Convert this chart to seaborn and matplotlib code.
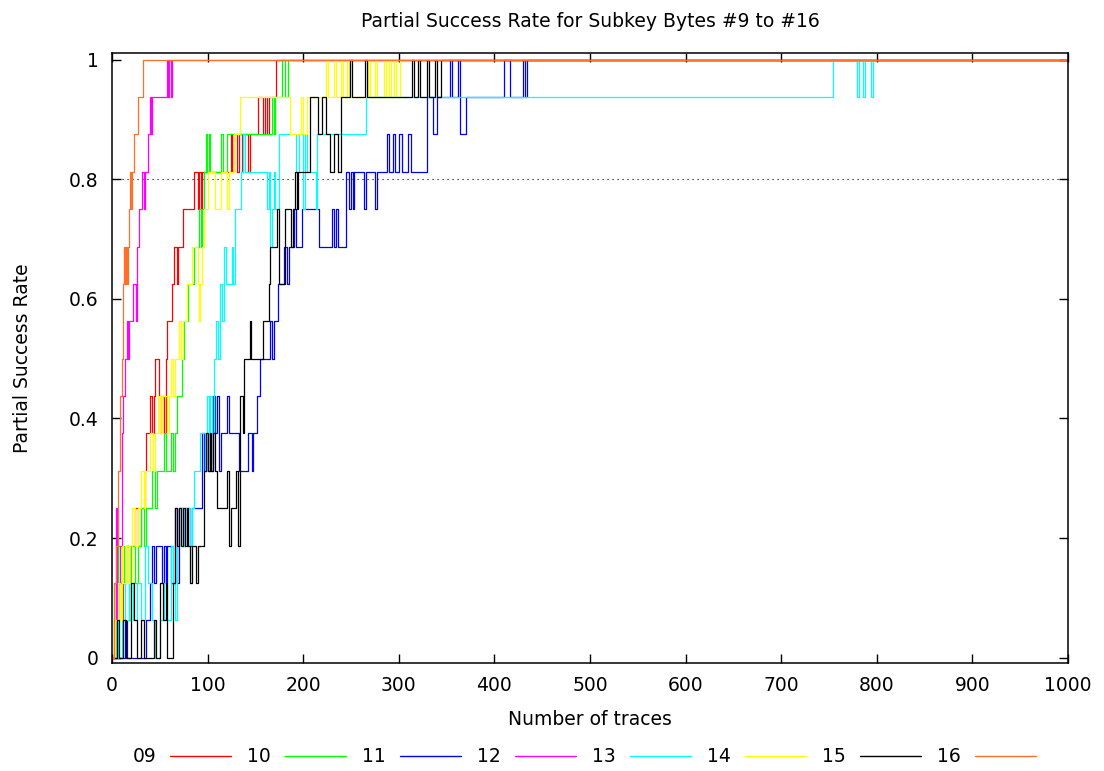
import numpy as np
import pandas as pd
import matplotlib
matplotlib.use("Agg")
import matplotlib.pyplot as plt
import seaborn as sns
from matplotlib.lines import Line2D

# Each attack is repeated on 16 independent runs; the success rate is hits / 16.
RUNS = 16

# (number of traces, successful runs) for each subkey byte; the count holds
# until the next listed trace count.
byte09 = [(0,0),(3,1),(6,2),(10,1),(12,2),(15,3),(18,2),(20,3),(24,4),(27,3),(30,4),(34,5),(36,6),(38,6),
          (40,7),(42,6),(44,7),(45,8),(48,8),(49,7),(50,6),(52,7),(54,6),(56,8),(58,9),(62,9),(63,10),(65,11),
          (67,11),(68,10),(69,11),(72,11),(74,12),(85,12),(86,13),(89,13),(90,12),(91,13),(93,12),(94,13),
          (123,13),(124,14),(126,13),(128,14),(131,13),(133,14),(136,13),(137,14),(140,14),(142,13),(144,14),
          (152,14),(153,15),(157,15),(158,14),(160,15),(162,14),(164,15),(170,15),(172,16),(1000,16)]

byte10 = [(0,0),(2,2),(4,1),(6,3),(8,2),(10,3),(13,2),(15,3),(18,1),(20,3),(24,2),(27,3),(30,4),(33,3),
          (36,4),(40,4),(42,5),(45,4),(47,5),(52,5),(54,6),(56,5),(60,5),(62,6),(64,5),(66,6),(68,7),(71,7),
          (73,8),(75,9),(78,9),(80,10),(84,10),(86,11),(90,11),(91,12),(93,11),(94,12),(96,13),(98,14),(99,13),
          (101,14),(103,13),(112,13),(114,14),(116,13),(120,14),(166,14),(167,15),(169,14),(171,15),(175,15),
          (178,16),(181,15),(184,16),(1000,16)]

byte11 = [(0,0),(10,0),(14,1),(16,0),(30,0),(36,1),(40,2),(42,3),(44,2),(46,3),(50,3),(52,2),(54,3),(56,2),
          (58,3),(62,2),(66,4),(68,2),(70,4),(74,3),(76,4),(80,4),(82,3),(84,4),(90,4),(94,6),(96,5),(98,6),
          (100,5),(102,6),(104,5),(106,7),(108,6),(110,7),(112,5),(114,6),(118,6),(120,7),(122,6),(132,6),
          (133,5),(140,5),(142,6),(145,6),(146,5),(148,6),(152,7),(155,8),(164,8),(165,9),(167,8),(169,9),
          (172,9),(174,10),(180,11),(183,10),(185,11),(190,12),(192,11),(197,11),(199,12),(216,12),(217,11),
          (228,11),(230,12),(232,11),(234,12),(236,11),(243,11),(245,13),(248,12),(250,13),(252,12),(253,13),
          (262,13),(264,12),(266,13),(274,13),(275,12),(277,13),(286,13),(288,14),(290,13),(294,14),(296,13),
          (300,14),(303,13),(310,14),(313,13),(326,13),(330,15),(334,15),(336,14),(340,15),(352,15),(354,16),
          (356,15),(362,16),(364,14),(368,14),(370,15),(408,15),(410,16),(414,16),(416,15),(428,15),(430,16),
          (432,15),(434,16),(1000,16)]

byte12 = [(0,0),(2,1),(4,4),(5,0),(6,2),(8,3),(10,6),(12,7),(14,8),(16,9),(17,8),(18,9),(20,9),(22,10),
          (24,10),(25,9),(26,11),(28,12),(30,12),(31,13),(33,12),(34,13),(36,13),(38,14),(40,15),(41,14),
          (42,15),(56,15),(58,16),(59,15),(60,16),(62,15),(63,16),(1000,16)]

byte13 = [(0,0),(4,1),(6,0),(10,2),(14,1),(18,2),(22,1),(26,2),(30,1),(35,3),(38,2),(42,1),(45,0),(50,1),
          (54,2),(58,1),(62,3),(64,2),(66,1),(68,3),(70,4),(74,3),(76,4),(80,4),(82,2),(84,4),(86,5),(90,5),
          (92,6),(95,6),(97,5),(99,7),(101,6),(103,7),(105,6),(107,8),(109,9),(111,8),(113,10),(115,9),
          (117,11),(119,10),(121,10),(125,11),(127,10),(129,12),(133,12),(135,13),(137,14),(139,13),(160,13),
          (162,12),(164,13),(165,11),(167,12),(169,13),(171,12),(173,12),(175,14),(190,14),(192,13),(196,14),
          (200,12),(202,14),(204,13),(212,13),(213,12),(214,14),(264,14),(266,15),(752,15),(754,16),(777,16),
          (779,15),(781,16),(784,16),(786,15),(788,16),(792,16),(794,15),(796,16),(1000,16)]

byte14 = [(0,0),(3,1),(6,2),(8,1),(10,3),(12,2),(15,3),(18,2),(21,4),(24,3),(27,4),(30,5),(33,4),(35,5),
          (38,5),(40,6),(43,5),(45,6),(48,7),(50,6),(52,7),(56,7),(58,6),(60,7),(62,8),(64,7),(66,8),(70,9),
          (72,8),(74,9),(78,10),(82,10),(84,11),(88,11),(90,10),(91,9),(92,10),(94,11),(96,12),(98,12),
          (100,13),(106,13),(108,12),(112,12),(114,13),(118,13),(120,12),(122,13),(126,13),(128,14),(132,14),
          (134,15),(184,15),(186,14),(196,14),(198,15),(200,14),(204,15),(222,15),(224,16),(226,15),(232,16),
          (234,15),(240,16),(242,15),(246,16),(248,15),(268,16),(270,15),(275,16),(277,15),(285,16),(287,15),
          (290,16),(292,15),(295,16),(297,15),(301,16),(1000,16)]

byte15 = [(0,0),(5,1),(7,0),(12,1),(15,0),(20,2),(23,1),(26,0),(30,1),(33,0),(40,0),(44,1),(46,0),(50,2),
          (53,1),(56,2),(58,0),(62,0),(64,2),(66,4),(68,3),(70,4),(72,3),(74,4),(76,3),(78,4),(80,3),(82,2),
          (84,3),(88,2),(90,3),(94,3),(96,5),(98,6),(100,5),(102,6),(104,5),(106,6),(108,5),(110,4),(118,4),
          (120,5),(122,3),(124,4),(128,4),(130,5),(132,3),(134,7),(136,7),(137,6),(138,8),(143,8),(144,9),
          (145,8),(156,8),(158,9),(162,9),(164,10),(165,11),(172,11),(173,12),(175,10),(180,10),(181,12),
          (185,12),(187,11),(189,12),(191,13),(193,12),(195,13),(205,13),(207,15),(214,15),(216,14),(220,15),
          (224,14),(228,13),(232,14),(236,13),(240,15),(248,15),(249,16),(251,15),(263,15),(265,16),(267,15),
          (314,16),(316,15),(320,16),(322,15),(330,16),(332,15),(338,16),(340,15),(344,16),(1000,16)]

byte16 = [(0,0),(2,2),(4,3),(6,5),(8,7),(10,8),(12,10),(13,11),(14,10),(15,11),(16,10),(17,11),(18,12),
          (19,13),(20,12),(21,13),(23,14),(26,14),(27,15),(30,15),(32,16),(1000,16)]

byte_labels = ["09", "10", "11", "12", "13", "14", "15", "16"]
byte_colors = ["#ff0000", "#00ff00", "#0000ff", "#ff00ff", "#00ffff", "#ffff00", "#000000", "#ff7028"]
series = [byte09, byte10, byte11, byte12, byte13, byte14, byte15, byte16]

frames = []
for label, pts in zip(byte_labels, series):
    xs, hits = zip(*pts)
    frames.append(pd.DataFrame({"traces": xs,
                                "rate": np.asarray(hits, dtype=float) / RUNS,
                                "byte": label}))
df = pd.concat(frames, ignore_index=True)

sns.set_style("ticks")
plt.rcParams["font.family"] = ["DejaVu Sans"]
plt.rcParams["text.color"] = "black"
plt.rcParams["axes.labelcolor"] = "black"
plt.rcParams["xtick.color"] = "black"
plt.rcParams["ytick.color"] = "black"
FS = 13.5

fig = plt.figure(figsize=(11.04, 7.71), dpi=100)
ax = fig.add_axes([112 / 1104, (771 - 663) / 771, 956 / 1104, 610 / 771])

ax.axhline(0.8, color="black", lw=0.8, ls=(0, (1, 3.5)), zorder=1)

palette = dict(zip(byte_labels, byte_colors))
sns.lineplot(data=df, x="traces", y="rate", hue="byte", hue_order=byte_labels,
             palette=palette, estimator=None, sort=False, lw=0.9,
             drawstyle="steps-post", legend=False, ax=ax, zorder=2)

ax.set_xlim(0, 1000)
ax.set_ylim(-0.0089, 1.0112)
ax.set_xticks(range(0, 1001, 100))
yt = [0, 0.2, 0.4, 0.6, 0.8, 1]
ax.set_yticks(yt)
ax.set_yticklabels(["0", "0.2", "0.4", "0.6", "0.8", "1"])
ax.tick_params(direction="in", length=6.5, width=1.0, top=True, right=True,
               labelsize=FS, pad=9.5, colors="black")
for sp in ax.spines.values():
    sp.set_visible(True)
    sp.set_linewidth(1.1)
    sp.set_color("black")

ax.set_title("Partial Success Rate for Subkey Bytes #9 to #16", fontsize=FS, pad=19, color="black")
ax.set_xlabel("Number of traces", fontsize=FS, color="black")
ax.set_ylabel("Partial Success Rate", fontsize=FS, color="black")
ax.xaxis.set_label_coords(0.5, -0.0766)
ax.yaxis.set_label_coords(-0.0833, 0.5)

handles = [Line2D([], [], color=c, lw=1.0) for c in byte_colors]
fig.legend(handles, byte_labels, loc="center", bbox_to_anchor=(584 / 1104, 1 - 757 / 771),
           ncol=8, frameon=False, markerfirst=False, handlelength=3.25,
           handletextpad=0.75, columnspacing=0.86, fontsize=FS, labelcolor="black")

fig.savefig("out.png", dpi=100)
